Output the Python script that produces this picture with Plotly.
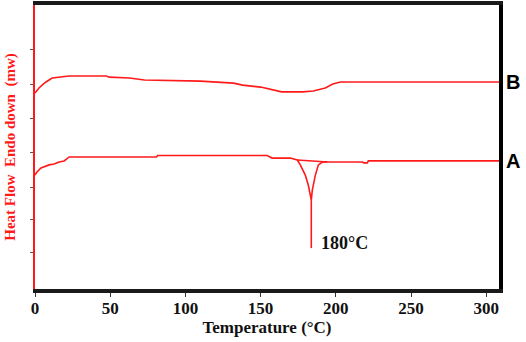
import plotly.graph_objects as go

# Temperature (°C) and heat flow (arbitrary units)
b_temp = [0, 1.3, 2.7, 4.7, 7.3, 11.4, 16, 22.7, 47.4, 49.4, 62.8, 72.8, 110, 118, 132, 138, 150, 164, 178, 185, 193, 198, 203, 309]
b_flow = [6.90, 7.01, 7.08, 7.18, 7.29, 7.43, 7.46, 7.50, 7.50, 7.46, 7.43, 7.36, 7.32, 7.29, 7.25, 7.18, 7.11, 6.94, 6.94, 6.97, 7.08, 7.22, 7.29, 7.29]

a_temp = [0, 1.3, 4, 9.4, 12.7, 16, 19.4, 22.7, 80.8, 81.5, 154.3, 157.7, 169.7, 174.4, 176.4, 179.7, 181.7, 183.1, 183.7, 184.4, 186.4, 188.4, 191.1, 194.4, 217.8, 218.5, 221, 221.6, 309]
a_flow = [4.01, 4.12, 4.26, 4.37, 4.40, 4.47, 4.51, 4.65, 4.65, 4.70, 4.70, 4.61, 4.61, 4.54, 4.37, 4.01, 3.66, 3.20, 3.13, 3.49, 4.01, 4.37, 4.47, 4.47, 4.47, 4.44, 4.44, 4.51, 4.51]

base_temp = [174.4, 194.4]
base_flow = [4.54, 4.47]

peak_temp = [183.7, 183.7]
peak_flow = [3.13, 1.44]

x_ticks = [0, 50, 100, 150, 200, 250, 300]
y_ticks = [1.3, 2.43, 3.59, 4.82, 6.0, 7.2, 8.42]

red = "#ff1a1a"
serif = "Liberation Serif"
fig = go.Figure()
for xs, ys in [(b_temp, b_flow), (a_temp, a_flow), (base_temp, base_flow), (peak_temp, peak_flow)]:
    fig.add_trace(go.Scatter(x=xs, y=ys, mode="lines", line=dict(color=red, width=1.6),
                             showlegend=False, hoverinfo="skip", cliponaxis=False))

fig.add_annotation(x=188.5, y=1.62, xref="x", yref="y", text="180°C", showarrow=False,
                   xanchor="left", yanchor="middle",
                   font=dict(family=serif, size=18, color="#111", weight="bold"))
fig.add_annotation(x=1.01, y=7.29, xref="paper", yref="y", text="B", showarrow=False,
                   xanchor="left", yanchor="middle", font=dict(family="Liberation Sans", size=20, color="#000", weight="bold"))
fig.add_annotation(x=1.01, y=4.51, xref="paper", yref="y", text="A", showarrow=False,
                   xanchor="left", yanchor="middle", font=dict(family="Liberation Sans", size=20, color="#000", weight="bold"))

fig.update_layout(
    width=526, height=342,
    margin=dict(l=35, r=27, t=5, b=53, autoexpand=False),
    paper_bgcolor="white", plot_bgcolor="white",
    xaxis=dict(range=[0, 308.5], tickvals=x_ticks, ticks="outside", ticklen=4, tickcolor="#333",
               showgrid=False, zeroline=False, showline=True, mirror=True, linecolor="#1a1a1a", linewidth=3.5,
               automargin=False, ticklabelstandoff=-3,
               tickfont=dict(family=serif, size=17, color="#111", weight="bold"),
               title=dict(text="Temperature (°C)", standoff=5,
                          font=dict(family=serif, size=17, color="#111", weight="bold"))),
    yaxis=dict(range=[0, 10], tickvals=y_ticks, showticklabels=False, ticks="outside", ticklen=3,
               tickcolor="#555", showgrid=False, zeroline=False, showline=True, linecolor=red, linewidth=1.5,
               automargin=False,
               title=dict(text="Heat Flow  Endo down  (mw)", standoff=11,
                          font=dict(family=serif, size=15, color=red, weight="bold"))),
    yaxis2=dict(overlaying="y", side="right", range=[0, 10], showline=True, linecolor="#000", linewidth=4,
                showticklabels=False, ticks="", showgrid=False, zeroline=False, automargin=False),
)
# invisible trace to activate right axis line
fig.add_trace(go.Scatter(x=[None], y=[None], yaxis="y2", showlegend=False, hoverinfo="skip"))
fig.write_html("out.html", config={"displayModeBar": False},
               post_script="document.body.style.margin='0';document.body.style.padding='0';")
